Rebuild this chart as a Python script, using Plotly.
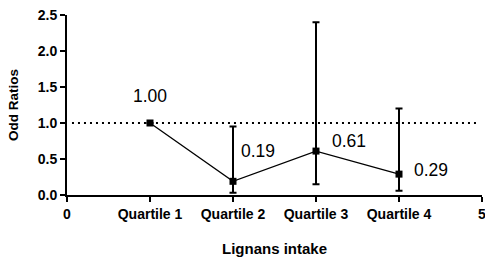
import plotly.graph_objects as go

quartiles = [1, 2, 3, 4]
odds = [1.00, 0.19, 0.61, 0.29]
upper = [1.00, 0.95, 2.40, 1.20]
lower = [1.00, 0.03, 0.15, 0.06]
labels = ["1.00", "0.19", "0.61", "0.29"]
label_x = [1.0, 2.3, 3.4, 4.39]
label_y = [1.38, 0.61, 0.75, 0.35]
ref_x = [0.06, 4.95]
ref_y = [1, 1]
x_tickvals = [0, 1, 2, 3, 4, 5]
x_ticktext = ["0", "Quartile 1", "Quartile 2", "Quartile 3", "Quartile 4", "5"]
y_tickvals = [0, 0.5, 1.0, 1.5, 2.0, 2.5]
y_ticktext = ["0.0", "0.5", "1.0", "1.5", "2.0", "2.5"]

FONT = "Liberation Sans, Arial"

fig = go.Figure()
fig.add_trace(go.Scatter(
    x=ref_x, y=ref_y, mode="lines",
    line=dict(color="black", width=2, dash="2px,4px"),
    hoverinfo="skip", showlegend=False, cliponaxis=False))
fig.add_trace(go.Scatter(
    x=quartiles, y=odds, mode="lines+markers",
    line=dict(color="black", width=1.3),
    marker=dict(symbol="square", size=7, color="black"),
    error_y=dict(type="data", symmetric=False,
                 array=[u - o for u, o in zip(upper, odds)],
                 arrayminus=[o - l for o, l in zip(odds, lower)],
                 color="black", thickness=2, width=3.5),
    showlegend=False, cliponaxis=False))

for lx, ly, t in zip(label_x, label_y, labels):
    fig.add_annotation(x=lx, y=ly, text=t, showarrow=False,
                       font=dict(family=FONT, size=17.5, color="black"))

axis_common = dict(showgrid=False, zeroline=False, showline=True, linecolor="black",
                   linewidth=2, ticks="outside", ticklen=5, tickwidth=2, tickcolor="black",
                   automargin=False, ticklabeloverflow="allow",
                   tickfont=dict(family=FONT, size=14, color="black"))

fig.update_xaxes(range=[0, 5], tickvals=x_tickvals,
                 ticktext=["<b>%s</b>" % t for t in x_ticktext],
                 title=dict(text="<b>Lignans intake</b>", standoff=23,
                            font=dict(family=FONT, size=15, color="black")),
                 **axis_common)
fig.update_yaxes(range=[0, 2.5], tickvals=y_tickvals,
                 ticktext=["<b>%s</b>" % t for t in y_ticktext],
                 title=dict(text="<b>Odd Ratios</b>", standoff=16,
                            font=dict(family=FONT, size=13.5, color="black")),
                 **axis_common)

fig.update_layout(width=485, height=257,
                  margin=dict(l=67, r=3, t=15, b=62, autoexpand=False),
                  plot_bgcolor="white", paper_bgcolor="white")
fig.write_html("out.html", config={"displayModeBar": False},
               post_script="document.body.style.margin='0px';document.body.style.overflow='hidden';")
